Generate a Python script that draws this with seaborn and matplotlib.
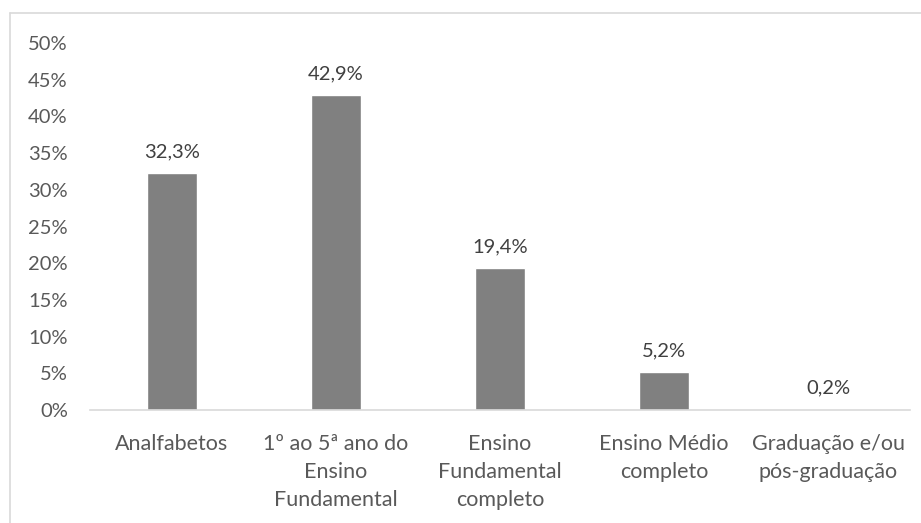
import matplotlib
matplotlib.use("Agg")
import matplotlib.pyplot as plt
import seaborn as sns
import pandas as pd
from matplotlib.lines import Line2D

# dados
categorias = [
    "Analfabetos",
    "1º ao 5ª ano do\nEnsino\nFundamental",
    "Ensino\nFundamental\ncompleto",
    "Ensino Médio\ncompleto",
    "Graduação e/ou\npós-graduação",
]
percentuais = [32.3, 42.9, 19.4, 5.2, 0.2]
yticks = [0, 5, 10, 15, 20, 25, 30, 35, 40, 45, 50]

df = pd.DataFrame({"categoria": categorias, "valor": percentuais})

sns.set_theme(style="white")
plt.rcParams["font.family"] = ["Lato", "DejaVu Sans"]

W, H = 921, 523
fig = plt.figure(figsize=(W / 100, H / 100), dpi=100)
ax = fig.add_axes([90 / W, 1 - 410 / H, (910 - 90) / W, (410 - 43) / H])

sns.barplot(data=df, x="categoria", y="valor", color="#808080",
            saturation=1, width=0.31, ax=ax)

rotulos = [f"{v:.1f}%".replace(".", ",") for v in percentuais]
ax.bar_label(ax.containers[0], labels=rotulos, padding=9,
             fontsize=14.5, color="#404040")

ax.set_ylim(0, 50)
ax.set_yticks(yticks)
ax.set_yticklabels([f"{t}%" for t in yticks])
ax.set_xlabel("")
ax.set_ylabel("")
ax.tick_params(axis="y", length=0, labelsize=14.5, colors="#595959", pad=16)
ax.tick_params(axis="x", length=0, labelsize=15.5, colors="#595959", pad=17)
for lbl in ax.get_xticklabels():
    lbl.set_linespacing(1.5)

for lado in ["top", "right", "left"]:
    ax.spines[lado].set_visible(False)
ax.spines["bottom"].set_color("#D9D9D9")
ax.spines["bottom"].set_linewidth(1.2)

# moldura do gráfico (cortada na direita e embaixo)
fig.add_artist(Line2D([9.5 / W, 9.5 / W], [0, 1 - 13 / H],
                      transform=fig.transFigure, color="#D9D9D9", lw=1.2))
fig.add_artist(Line2D([9.5 / W, 1], [1 - 13 / H, 1 - 13 / H],
                      transform=fig.transFigure, color="#D9D9D9", lw=1.2))

fig.savefig("out.png", dpi=100)
